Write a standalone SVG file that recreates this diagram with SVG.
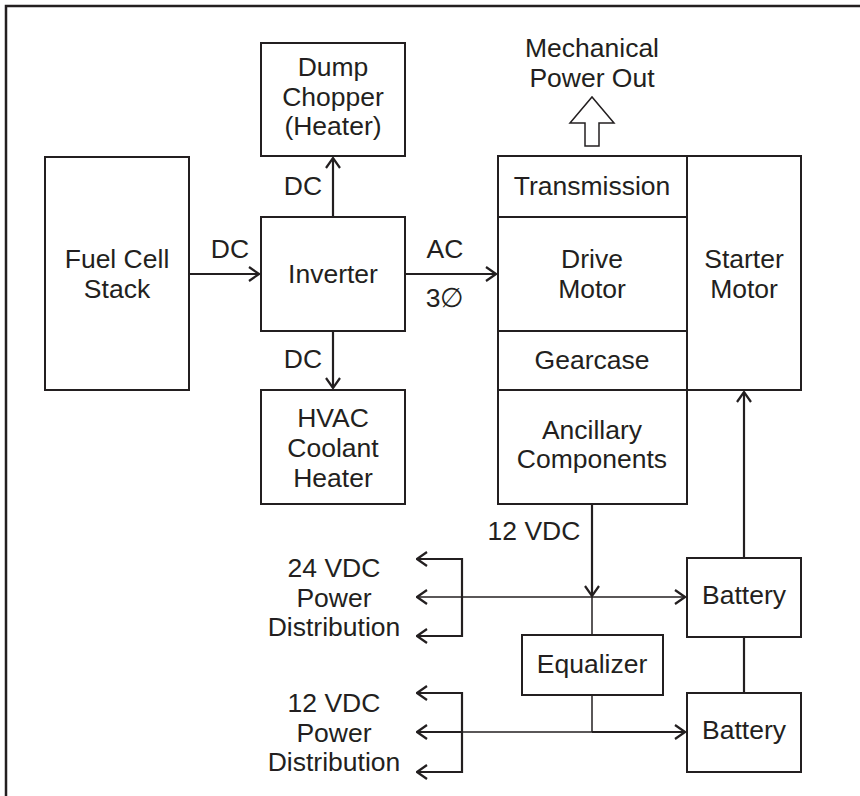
<svg xmlns="http://www.w3.org/2000/svg" width="860" height="796" viewBox="0 0 860 796">
<defs>
<style>
.box{fill:#fff;stroke:#231f20;stroke-width:2}
.ln{fill:none;stroke:#231f20;stroke-width:2.2}
.thin{fill:none;stroke:#231f20;stroke-width:1.5}
text{font-family:"Liberation Sans",Arial,sans-serif;font-size:26.5px;fill:#231f20;text-anchor:middle}
</style>
<marker id="ah" viewBox="0 0 12 16" refX="11" refY="8" markerWidth="12" markerHeight="16" markerUnits="userSpaceOnUse" orient="auto">
<path d="M1,1 L11,8 L1,15" fill="none" stroke="#231f20" stroke-width="2.2"/>
</marker>
</defs>
<rect x="0" y="0" width="860" height="796" fill="#fff"/>
<rect x="6" y="6" width="870" height="810" fill="none" stroke="#231f20" stroke-width="2.5"/>

<g id="connectors">
<line class="ln" x1="189" y1="274" x2="259" y2="274" marker-end="url(#ah)"/>
<line class="ln" x1="333" y1="217" x2="333" y2="158" marker-end="url(#ah)"/>
<line class="ln" x1="333" y1="331" x2="333" y2="388" marker-end="url(#ah)"/>
<line class="ln" x1="405" y1="274" x2="496" y2="274" marker-end="url(#ah)"/>
<line class="ln" x1="744" y1="558" x2="744" y2="392" marker-end="url(#ah)"/>
<line class="ln" x1="744" y1="637" x2="744" y2="693"/>
<line class="ln" x1="592" y1="504" x2="592" y2="596" marker-end="url(#ah)"/>
<line class="thin" x1="462" y1="597" x2="685" y2="597" marker-end="url(#ah)"/>
<line class="thin" x1="462" y1="597" x2="417" y2="597" marker-end="url(#ah)"/>
<line class="thin" x1="592" y1="597" x2="592" y2="635"/>
<polyline class="ln" points="417,559 462,559 462,636 417,636"/>
<line class="ln" x1="462" y1="559" x2="417" y2="559" marker-end="url(#ah)"/>
<line class="ln" x1="462" y1="636" x2="417" y2="636" marker-end="url(#ah)"/>
<line class="thin" x1="592" y1="695" x2="592" y2="732"/>
<line class="ln" x1="592" y1="732" x2="685" y2="732" marker-end="url(#ah)"/>
<line class="thin" x1="592" y1="732" x2="462" y2="732"/>
<line class="ln" x1="462" y1="732" x2="417" y2="732" marker-end="url(#ah)"/>
<polyline class="ln" points="417,693 462,693 462,772 417,772"/>
<line class="ln" x1="462" y1="693" x2="417" y2="693" marker-end="url(#ah)"/>
<line class="ln" x1="462" y1="772" x2="417" y2="772" marker-end="url(#ah)"/>
<polygon points="585,146 599,146 599,123 614,123 592,97 570,123 585,123" fill="#fff" stroke="#231f20" stroke-width="1.5"/>
</g>

<g id="labels">
<text x="230" y="258">DC</text>
<text x="303" y="195">DC</text>
<text x="303" y="368">DC</text>
<text x="445" y="258">AC</text>
<text x="445" y="307">3∅</text>
<text x="534" y="540">12 VDC</text>
<text x="592" y="57">Mechanical</text>
<text x="592" y="87">Power Out</text>
<text x="334" y="577">24 VDC</text>
<text x="334" y="607">Power</text>
<text x="334" y="636">Distribution</text>
<text x="334" y="712">12 VDC</text>
<text x="334" y="742">Power</text>
<text x="334" y="771">Distribution</text>
</g>

<g id="fuel-cell"><rect class="box" x="45" y="157" width="144" height="233"/><text x="117" y="268">Fuel Cell</text><text x="117" y="298">Stack</text></g>
<g id="dump-chopper"><rect class="box" x="261" y="43" width="144" height="113"/><text x="333" y="76">Dump</text><text x="333" y="106">Chopper</text><text x="333" y="135">(Heater)</text></g>
<g id="inverter"><rect class="box" x="261" y="217" width="144" height="114"/><text x="333" y="283">Inverter</text></g>
<g id="hvac"><rect class="box" x="261" y="390" width="144" height="114"/><text x="333" y="427">HVAC</text><text x="333" y="457">Coolant</text><text x="333" y="487">Heater</text></g>
<g id="transmission"><rect class="box" x="498" y="156" width="189" height="61"/><text x="592" y="195">Transmission</text></g>
<g id="drive-motor"><rect class="box" x="498" y="217" width="189" height="114"/><text x="592" y="268">Drive</text><text x="592" y="298">Motor</text></g>
<g id="gearcase"><rect class="box" x="498" y="331" width="189" height="59"/><text x="592" y="369">Gearcase</text></g>
<g id="starter-motor"><rect class="box" x="687" y="156" width="114" height="234"/><text x="744" y="268">Starter</text><text x="744" y="298">Motor</text></g>
<g id="ancillary"><rect class="box" x="498" y="390" width="189" height="114"/><text x="592" y="439">Ancillary</text><text x="592" y="468">Components</text></g>
<g id="equalizer"><rect class="box" x="522" y="635" width="141" height="60"/><text x="592" y="673">Equalizer</text></g>
<g id="battery1"><rect class="box" x="687" y="558" width="114" height="79"/><text x="744" y="604">Battery</text></g>
<g id="battery2"><rect class="box" x="687" y="693" width="114" height="79"/><text x="744" y="739">Battery</text></g>
</svg>
